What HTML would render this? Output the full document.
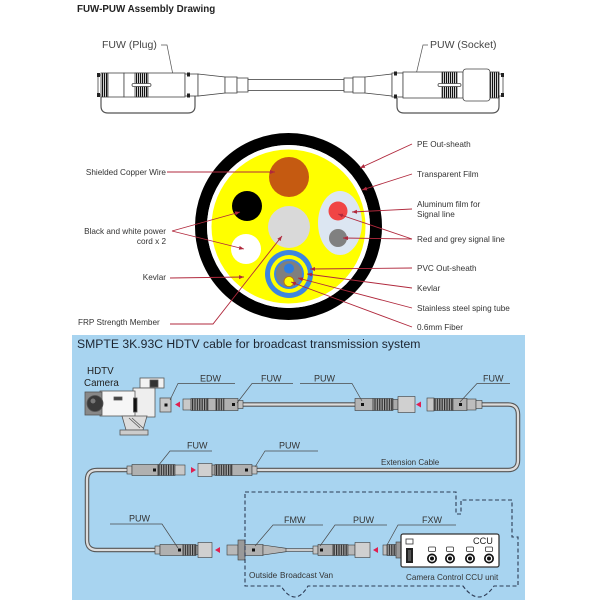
<!DOCTYPE html>
<html><head><meta charset="utf-8">
<style>
html,body{margin:0;padding:0;background:#fff;}
svg{display:block;}
text{font-family:"Liberation Sans",Arial,sans-serif;}
</style></head><body>
<svg width="600" height="600" viewBox="0 0 600 600" xmlns="http://www.w3.org/2000/svg">
<defs>
<marker id="ar" viewBox="0 0 10 10" refX="10" refY="5" markerWidth="5" markerHeight="5" orient="auto" markerUnits="userSpaceOnUse">
<path d="M0,1 L10,5 L0,9 z" fill="#b0283c"/>
</marker>
<pattern id="kt" width="2" height="40" patternUnits="userSpaceOnUse"><rect width="2" height="40" fill="#fff"/><rect width="1.2" height="40" fill="#111"/></pattern>
<pattern id="kn" width="2.4" height="40" patternUnits="userSpaceOnUse"><rect width="2.4" height="40" fill="#a8a8a8"/><rect width="1.2" height="40" fill="#2e2e2e"/></pattern>
</defs>

<!-- Title -->
<text x="77" y="12" font-size="9.8" font-weight="bold" fill="#222">FUW-PUW Assembly Drawing</text>

<!-- Top assembly -->
<text x="102" y="48" font-size="10.5" fill="#444">FUW (Plug)</text>
<text x="430" y="48" font-size="10.5" fill="#444">PUW (Socket)</text>
<path d="M161,45 L167,45 L174,80" fill="none" stroke="#555" stroke-width="0.7"/>
<path d="M428,45 L423,45 L415,79" fill="none" stroke="#555" stroke-width="0.7"/>

<g stroke="#444" stroke-width="0.8" fill="#fff">
<!-- left plug -->
<path d="M101,96 L101,106 Q101,113 108,113 L188,113 Q195,113 195,106 L195,96" fill="none" stroke="#555" stroke-width="1.2"/>
<rect x="98" y="75" width="4" height="20"/>
<rect x="101" y="73" width="7" height="24" fill="url(#kt)"/>
<rect x="108" y="73" width="16" height="24"/>
<rect x="124" y="73" width="61" height="24"/>
<rect x="135" y="73" width="13" height="24" fill="url(#kt)"/>
<rect x="132" y="83.5" width="19" height="3" rx="1.5"/>
<rect x="185" y="74" width="13" height="22"/>
<polygon points="198,74 225,77 225,93 198,96"/>
<rect x="225" y="77" width="12" height="16"/>
<rect x="237" y="78" width="11" height="14"/>
<!-- cable -->
<rect x="248" y="79.5" width="96" height="11"/>
<!-- right socket -->
<path d="M397,98 L397,106 Q397,113 404,113 L492,113 Q499,113 499,106 L499,96" fill="none" stroke="#555" stroke-width="1.2"/>
<rect x="344" y="78" width="9" height="14"/>
<rect x="353" y="77" width="12" height="16"/>
<polygon points="365,77 392,74 392,96 365,93"/>
<rect x="392" y="73" width="11" height="24"/>
<rect x="403" y="72" width="60" height="26"/>
<rect x="442" y="72" width="15" height="26" fill="url(#kt)"/>
<rect x="438" y="83.5" width="23" height="3" rx="1.5"/>
<rect x="463" y="69" width="27" height="32" rx="3"/>
<rect x="490" y="72" width="9" height="26" fill="url(#kt)"/>
<rect x="499" y="74" width="4" height="22"/>
</g>
<g fill="#222">
<rect x="97" y="73" width="3" height="4"/><rect x="97" y="93" width="3" height="4"/>
<rect x="187" y="72.5" width="3" height="4"/><rect x="187" y="93.5" width="3" height="4"/>
<rect x="394" y="71.5" width="3" height="4"/><rect x="394" y="94.5" width="3" height="4"/>
<rect x="501" y="73" width="3" height="4"/><rect x="501" y="93" width="3" height="4"/>
</g>

<!-- Cross-section -->
<circle cx="288.5" cy="226.5" r="87.5" fill="none" stroke="#000" stroke-width="12"/>
<circle cx="288.5" cy="226.5" r="81.5" fill="#fff"/>
<circle cx="288.5" cy="226.5" r="77" fill="#ffff00"/>
<circle cx="289" cy="177" r="20" fill="#c55a11"/>
<circle cx="247" cy="206" r="15" fill="#000"/>
<circle cx="289" cy="227" r="21" fill="#d9d9d9"/>
<circle cx="246" cy="249" r="15" fill="#fff"/>
<ellipse cx="340" cy="223" rx="22" ry="32" fill="#dce6f2"/>
<circle cx="338" cy="211" r="9.5" fill="#f04545"/>
<circle cx="338" cy="238" r="9" fill="#808080"/>
<circle cx="289" cy="274" r="24" fill="#3d85e0"/>
<circle cx="289" cy="274" r="19" fill="#ffff00"/>
<circle cx="289" cy="274" r="15" fill="#3d85e0"/>
<circle cx="289" cy="274" r="13" fill="#7f7f7f"/>
<circle cx="289" cy="268.5" r="5" fill="#2e7de0"/>
<circle cx="289" cy="281.5" r="5" fill="#ffff00" stroke="#c07000" stroke-width="0.8"/>

<g stroke="#b0283c" stroke-width="0.9" fill="none" marker-end="url(#ar)">
<path d="M167,172 L275,172"/>
<path d="M172,231 L240,212"/>
<path d="M172,231 L244,249"/>
<path d="M170,278 L244,277"/>
<path d="M170,324 L213,324 L282,236"/>
<path d="M412,144 L360,168"/>
<path d="M412,174 L362,190"/>
<path d="M412,209 L352,212"/>
<path d="M412,239 L338,214"/>
<path d="M412,239 L343,238"/>
<path d="M412,268 L310,269"/>
<path d="M412,288 L307,274"/>
<path d="M412,308 L298,278"/>
<path d="M412,327 L291,282"/>
</g>

<g font-size="8.2" fill="#333">
<text x="166" y="175" text-anchor="end">Shielded Copper Wire</text>
<text x="166" y="234" text-anchor="end">Black and white power</text>
<text x="166" y="244" text-anchor="end">cord x 2</text>
<text x="166" y="280" text-anchor="end">Kevlar</text>
<text x="78" y="325">FRP Strength Member</text>
<text x="417" y="147">PE Out-sheath</text>
<text x="417" y="177">Transparent Film</text>
<text x="417" y="207">Aluminum film for</text>
<text x="417" y="217">Signal line</text>
<text x="417" y="242">Red and grey signal line</text>
<text x="417" y="271">PVC Out-sheath</text>
<text x="417" y="291">Kevlar</text>
<text x="417" y="311">Stainless steel sping tube</text>
<text x="417" y="330">0.6mm Fiber</text>
</g>

<!-- Bottom blue panel -->
<rect x="72" y="335" width="453" height="265" fill="#a8d4f0"/>
<text x="77" y="348" font-size="12.2" fill="#1c2430">SMPTE 3K.93C HDTV cable for broadcast transmission system</text>

<text x="87" y="374" font-size="9.8" fill="#222">HDTV</text>
<text x="84" y="386" font-size="9.8" fill="#222">Camera</text>

<!-- camera -->
<g stroke="#555" stroke-width="0.8">
<rect x="140" y="378" width="24" height="10" fill="#f2f2f2"/>
<rect x="150" y="380" width="8" height="7" fill="#333"/>
<rect x="147" y="388" width="6" height="3" fill="#ddd"/>
<rect x="133" y="388" width="22" height="29" fill="#eee"/>
<rect x="100" y="391" width="35" height="25" fill="#f6f6f6"/>
<rect x="85" y="392" width="17" height="23" fill="#888"/>
<circle cx="95" cy="403.5" r="8" fill="#3a3a3a"/>
<circle cx="93" cy="401" r="2.5" fill="#777" stroke="none"/>
<rect x="114" y="397" width="8" height="3" fill="#444"/>
<rect x="133.5" y="398" width="3.5" height="14" fill="#111"/>
<polygon points="122,416 147,416 143,430 126,430" fill="#ddd"/>
<line x1="129" y1="418" x2="140" y2="428"/>
<line x1="132" y1="418" x2="143" y2="428"/>
<rect x="120" y="430" width="28" height="5" fill="#ccc"/>
<rect x="160" y="398" width="11" height="14" fill="#c8c8c8"/>
</g>
<rect x="164.5" y="403.5" width="3" height="3" fill="#111"/>

<!-- cables -->
<g fill="none" stroke-linecap="butt">
<path d="M243,404.5 L355,404.5" stroke="#555" stroke-width="4.5"/>
<path d="M243,404.5 L355,404.5" stroke="#dcdcdc" stroke-width="2.3"/>
<path d="M482,404.5 L508,404.5 Q518,404.5 518,414.5 L518,460 Q518,470 508,470 L257,470" stroke="#555" stroke-width="4.5"/>
<path d="M482,404.5 L508,404.5 Q518,404.5 518,414.5 L518,460 Q518,470 508,470 L257,470" stroke="#dcdcdc" stroke-width="2.3"/>
<path d="M127,470 L97,470 Q87,470 87,480 L87,540 Q87,550 97,550 L155,550" stroke="#555" stroke-width="4.5"/>
<path d="M127,470 L97,470 Q87,470 87,480 L87,540 Q87,550 97,550 L155,550" stroke="#dcdcdc" stroke-width="2.3"/>
<path d="M286,550 L313,550" stroke="#555" stroke-width="3.5"/>
<path d="M286,550 L313,550" stroke="#dcdcdc" stroke-width="1.8"/>
</g>

<!-- connectors -->
<g stroke="#3a3a3a" stroke-width="0.6">
<!-- FUW1 -->
<rect x="183" y="399" width="8" height="11" fill="#c9c9c9"/>
<rect x="191" y="398.5" width="17" height="12" fill="url(#kn)"/>
<rect x="208" y="398.5" width="8" height="12" fill="#b5b5b5"/>
<rect x="216" y="398.5" width="8" height="12" fill="url(#kn)"/>
<rect x="224" y="398.5" width="14" height="12" fill="#b0b0b0"/>
<rect x="238" y="400.5" width="5" height="8" fill="#c0c0c0"/>
<!-- PUW1 -->
<rect x="355" y="398.5" width="18" height="12" fill="#b4b4b4"/>
<rect x="373" y="398.5" width="20" height="12" fill="url(#kn)"/>
<rect x="393" y="399.5" width="5" height="10" fill="#aaa"/>
<rect x="398" y="396.5" width="17" height="16" fill="#d0d0d0"/>
<!-- FUW1 right -->
<rect x="427" y="398" width="7" height="13" fill="#c8c8c8"/>
<rect x="434" y="398.5" width="19" height="12" fill="url(#kn)"/>
<rect x="453" y="398.5" width="14" height="12" fill="#b0b0b0"/>
<rect x="467" y="399" width="9" height="11" fill="#bdbdbd"/>
<rect x="476" y="400.5" width="6" height="8" fill="#c4c4c4"/>
<!-- FUW2 -->
<rect x="127" y="466" width="5" height="8" fill="#c4c4c4"/>
<rect x="132" y="464.5" width="26" height="11" fill="#b0b0b0"/>
<rect x="158" y="464.5" width="17" height="11" fill="url(#kn)"/>
<rect x="175" y="465" width="10" height="10" fill="#c8c8c8"/>
<!-- PUW2 -->
<rect x="198" y="463.5" width="14" height="13" fill="#d0d0d0"/>
<rect x="212" y="465" width="3" height="10" fill="#aaa"/>
<rect x="215" y="464.5" width="17" height="11" fill="url(#kn)"/>
<rect x="232" y="464.5" width="20" height="11" fill="#b0b0b0"/>
<rect x="252" y="466" width="5" height="8" fill="#c4c4c4"/>
<!-- PUW3 -->
<rect x="155" y="546" width="5" height="8" fill="#c4c4c4"/>
<rect x="160" y="544.5" width="23" height="11" fill="#b0b0b0"/>
<rect x="183" y="544.5" width="13" height="11" fill="url(#kn)"/>
<rect x="196" y="545.5" width="2" height="9" fill="#aaa"/>
<rect x="198" y="542.5" width="14" height="15" fill="#d0d0d0"/>
<!-- FMW -->
<rect x="227" y="545" width="11" height="10" fill="#b8b8b8"/>
<rect x="238" y="540" width="7" height="20" fill="#999"/>
<rect x="245" y="544.5" width="18" height="11" fill="#b0b0b0"/>
<polygon points="263,545 286,548.3 286,551.7 263,555" fill="#b8b8b8"/>
<!-- PUW3b -->
<rect x="313" y="546" width="5" height="8" fill="#c4c4c4"/>
<rect x="318" y="544.5" width="15" height="11" fill="#b0b0b0"/>
<rect x="333" y="544.5" width="15" height="11" fill="url(#kn)"/>
<rect x="348" y="545" width="7" height="10" fill="#b8b8b8"/>
<rect x="355" y="542.5" width="15" height="15" fill="#d0d0d0"/>
<!-- FXW -->
<rect x="383" y="545" width="4" height="10" fill="#c0c0c0"/>
<rect x="387" y="544.5" width="9" height="11" fill="url(#kn)"/>
<rect x="396" y="542" width="5" height="16" fill="#999"/>
</g>
<g fill="#111">
<rect x="232" y="403" width="3" height="3"/>
<rect x="361" y="403" width="3" height="3"/>
<rect x="459" y="403" width="3" height="3"/>
<rect x="153" y="468.5" width="3" height="3"/>
<rect x="245" y="468.5" width="3" height="3"/>
<rect x="178" y="548.5" width="3" height="3"/>
<rect x="252" y="548.5" width="3" height="3"/>
<rect x="320" y="548.5" width="3" height="3"/>
</g>

<!-- red arrows -->
<g fill="#e02050">
<polygon points="175,404.5 180,401.5 180,407.5"/>
<polygon points="416,404.5 421,401.5 421,407.5"/>
<polygon points="196,470 191,467 191,473"/>
<polygon points="215,550 220,547 220,553"/>
<polygon points="373,550 378,547 378,553"/>
</g>

<!-- label leaders -->
<g stroke="#4a4a4a" stroke-width="0.7" fill="none">
<path d="M235,383.5 L178,383.5 L170,400"/>
<path d="M293,383.5 L252,383.5 L237,403"/>
<path d="M300,383.5 L352,383.5 L362,401"/>
<path d="M510,383.5 L477,383.5 L460,402"/>
<path d="M212,451 L170,451 L158,466"/>
<path d="M318,451 L265,451 L255,467"/>
<path d="M110,524 L162,524 L178,548"/>
<path d="M323,525 L273,525 L255,546"/>
<path d="M387,525 L335,525 L320,546"/>
<path d="M456,525 L398,525 L387,545"/>
</g>
<g font-size="9" fill="#333">
<text x="200" y="381.5">EDW</text>
<text x="261" y="381.5">FUW</text>
<text x="314" y="381.5">PUW</text>
<text x="483" y="381.5">FUW</text>
<text x="187" y="448.5">FUW</text>
<text x="279" y="448.5">PUW</text>
<text x="129" y="521.5">PUW</text>
<text x="284" y="523">FMW</text>
<text x="353" y="523">PUW</text>
<text x="422" y="523">FXW</text>
</g>
<text x="381" y="465" font-size="8" fill="#333">Extension Cable</text>

<!-- dashed van boundary -->
<path d="M245,492 L456,492 L456,514 L461,514 L461,500 L512,500 L512,537 L518,537 L518,586 L494,586 Q479,608 463,586 L308,586 Q295,608 281,586 L245,586 Z" fill="none" stroke="#2d3b55" stroke-width="1.1" stroke-dasharray="4 2.5"/>

<!-- CCU -->
<rect x="401" y="534" width="98" height="33" rx="2" fill="#fff" stroke="#333" stroke-width="1.3"/>
<rect x="406" y="539" width="7" height="5" fill="#fff" stroke="#333" stroke-width="0.8"/>
<rect x="406" y="548" width="7" height="15" fill="#222"/>
<rect x="408" y="550" width="3" height="11" fill="#555"/>
<g stroke="#333" stroke-width="0.8" fill="#fff">
<rect x="428.5" y="547" width="7" height="4.5" rx="1"/>
<rect x="446.5" y="547" width="7" height="4.5" rx="1"/>
<rect x="466.5" y="547" width="7" height="4.5" rx="1"/>
<rect x="485.5" y="547" width="7" height="4.5" rx="1"/>
</g>
<g>
<circle cx="432" cy="558.5" r="5" fill="#111"/><circle cx="432" cy="558.5" r="3.3" fill="#fff"/><circle cx="432" cy="558.5" r="2" fill="#111"/>
<circle cx="450" cy="558.5" r="5" fill="#111"/><circle cx="450" cy="558.5" r="3.3" fill="#fff"/><circle cx="450" cy="558.5" r="2" fill="#111"/>
<circle cx="470" cy="558.5" r="5" fill="#111"/><circle cx="470" cy="558.5" r="3.3" fill="#fff"/><circle cx="470" cy="558.5" r="2" fill="#111"/>
<circle cx="489" cy="558.5" r="5" fill="#111"/><circle cx="489" cy="558.5" r="3.3" fill="#fff"/><circle cx="489" cy="558.5" r="2" fill="#111"/>
</g>
<text x="473" y="544" font-size="9.2" fill="#222">CCU</text>
<text x="406" y="580" font-size="8.1" fill="#333">Camera Control CCU unit</text>
<text x="249" y="578" font-size="8.2" fill="#333">Outside</text>
<text x="280" y="578" font-size="8.2" fill="#333">Broadcast Van</text>
</svg>
</body></html>
